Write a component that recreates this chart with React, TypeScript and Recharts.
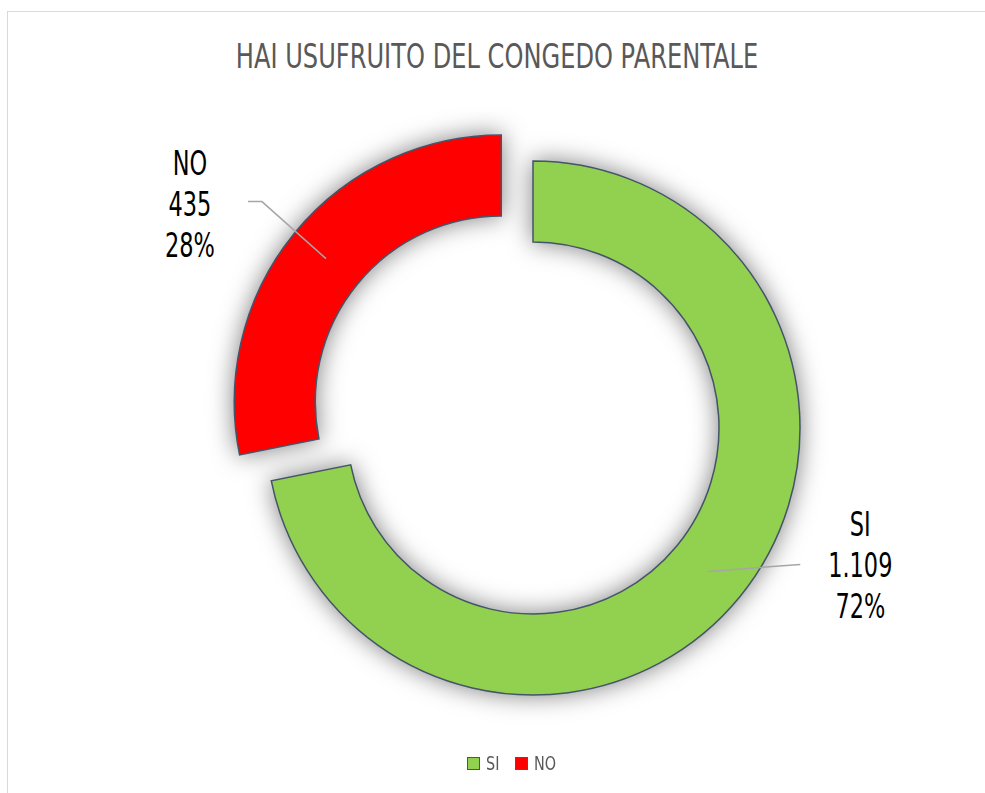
import React from "react";
import { PieChart, Pie, Cell, Legend } from "recharts";

const categories = ["SI", "NO"];
const values = [1109, 435];
const colors = ["#92D050", "#FF0000"];
const title = "HAI USUFRUITO DEL CONGEDO PARENTALE";

const data = categories.map((name, i) => ({ name, value: values[i] }));

const RAD = Math.PI / 180;
const CX = 533;
const CY = 428;
const INNER = 186;
const OUTER = 267;
const EXPLODE = 41;
const FONT = "'DejaVu Sans', 'Liberation Sans', sans-serif";
const SX = 0.66;
const EDGE = "#44546A";

const fmt = (v: number) => String(v).replace(/\B(?=(\d{3})+(?!\d))/g, ".");

// label line geometry relative to the slice mid-point
const labelCfg: Record<string, { elbow: [number, number]; end: [number, number]; tx: number; ty: number }> = {
  NO: { elbow: [-64, -57], end: [-78, -57], tx: -136, ty: -55 },
  SI: { elbow: [92, -7], end: [92, -7], tx: 152, ty: -6 },
};

const makeLabel = (show: string) => (props: any) => {
  const { cx, cy, midAngle, innerRadius, outerRadius, name, value, percent } = props;
  if (name !== show) return null;
  const r = (innerRadius + outerRadius) / 2;
  const sx = cx + r * Math.cos(-midAngle * RAD);
  const sy = cy + r * Math.sin(-midAngle * RAD);
  const c = labelCfg[name];
  const ex = sx + c.elbow[0];
  const ey = sy + c.elbow[1];
  const fx = sx + c.end[0];
  const fy = sy + c.end[1];
  const tx = sx + c.tx;
  const ty = sy + c.ty;
  return (
    <g>
      <polyline
        points={`${sx},${sy} ${ex},${ey} ${fx},${fy}`}
        fill="none"
        stroke="#A6A6A6"
        strokeWidth={1.5}
      />
      <text
        transform={`translate(${tx},${ty}) scale(${SX},1)`}
        textAnchor="middle"
        fontFamily={FONT}
        fontSize={34}
        fill="#000000"
      >
        <tspan x={0} y={-29}>{name}</tspan>
        <tspan x={0} y={12}>{fmt(value)}</tspan>
        <tspan x={0} y={53}>{`${Math.round(percent * 100)}%`}</tspan>
      </text>
    </g>
  );
};

const total = values.reduce((a, b) => a + b, 0);
const noMid = 90 - 360 * (values[0] + values[1] / 2) / total; // recharts angle convention
const noCx = CX + EXPLODE * Math.cos(noMid * RAD);
const noCy = CY - EXPLODE * Math.sin(noMid * RAD);

const legendX = [467, 515];
const LegendContent = () => (
  <div style={{ position: "relative", width: 985, height: 30, fontFamily: FONT, fontSize: 20, color: "#595959" }}>
    {categories.map((c, i) => (
      <React.Fragment key={c}>
        <div
          style={{
            position: "absolute",
            left: legendX[i],
            top: 3,
            width: 11,
            height: 11,
            background: colors[i],
            border: `1.5px solid ${EDGE}`,
          }}
        />
        <span
          style={{
            position: "absolute",
            left: legendX[i] + 19,
            top: -2,
            lineHeight: "23px",
            whiteSpace: "nowrap",
            transform: "scaleX(0.72)",
            transformOrigin: "left center",
          }}
        >
          {c}
        </span>
      </React.Fragment>
    ))}
  </div>
);

const Rings = ({ withLabels }: { withLabels: boolean }) => {
  const pies = [
    { cx: CX, cy: CY, show: 0 },
    { cx: noCx, cy: noCy, show: 1 },
  ];
  return (
    <PieChart width={985} height={793} margin={{ top: 0, right: 0, bottom: 0, left: 0 }}>
      {withLabels && (
        <text
          transform={`translate(497,68) scale(0.71,1)`}
          textAnchor="middle"
          fontFamily={FONT}
          fontSize={34}
          fill="#595959"
        >
          {title}
        </text>
      )}
      {pies.map((p) => (
        <Pie
          key={p.show}
          data={data}
          dataKey="value"
          nameKey="name"
          cx={p.cx}
          cy={p.cy}
          innerRadius={INNER}
          outerRadius={OUTER}
          startAngle={90}
          endAngle={-270}
          isAnimationActive={false}
          label={withLabels ? makeLabel(categories[p.show]) : false}
          labelLine={false}
        >
          {data.map((d, i) => (
            <Cell
              key={d.name}
              fill={!withLabels && i === p.show ? colors[i] : "none"}
              stroke={!withLabels && i === p.show ? EDGE : "none"}
              strokeWidth={1.5}
            />
          ))}
        </Pie>
      ))}
      {withLabels && (
        <Legend
          content={<LegendContent />}
          wrapperStyle={{ position: "absolute", left: 0, top: 754, width: 985 }}
        />
      )}
    </PieChart>
  );
};

export default function App() {
  return (
    <div style={{ position: "absolute", left: 0, top: 0, width: 985, height: 793, overflow: "hidden", background: "#fff" }}>
      <div style={{ position: "absolute", left: 7, top: 11, width: 978, height: 1, background: "#D9D9D9" }} />
      <div style={{ position: "absolute", left: 7, top: 11, width: 1, height: 782, background: "#D9D9D9" }} />
      <div style={{ position: "absolute", left: 0, top: 0, filter: "drop-shadow(0px 0px 12px rgba(0,0,0,0.5))" }}>
        <Rings withLabels={false} />
      </div>
      <div style={{ position: "absolute", left: 0, top: 0 }}>
        <Rings withLabels={true} />
      </div>
    </div>
  );
}
